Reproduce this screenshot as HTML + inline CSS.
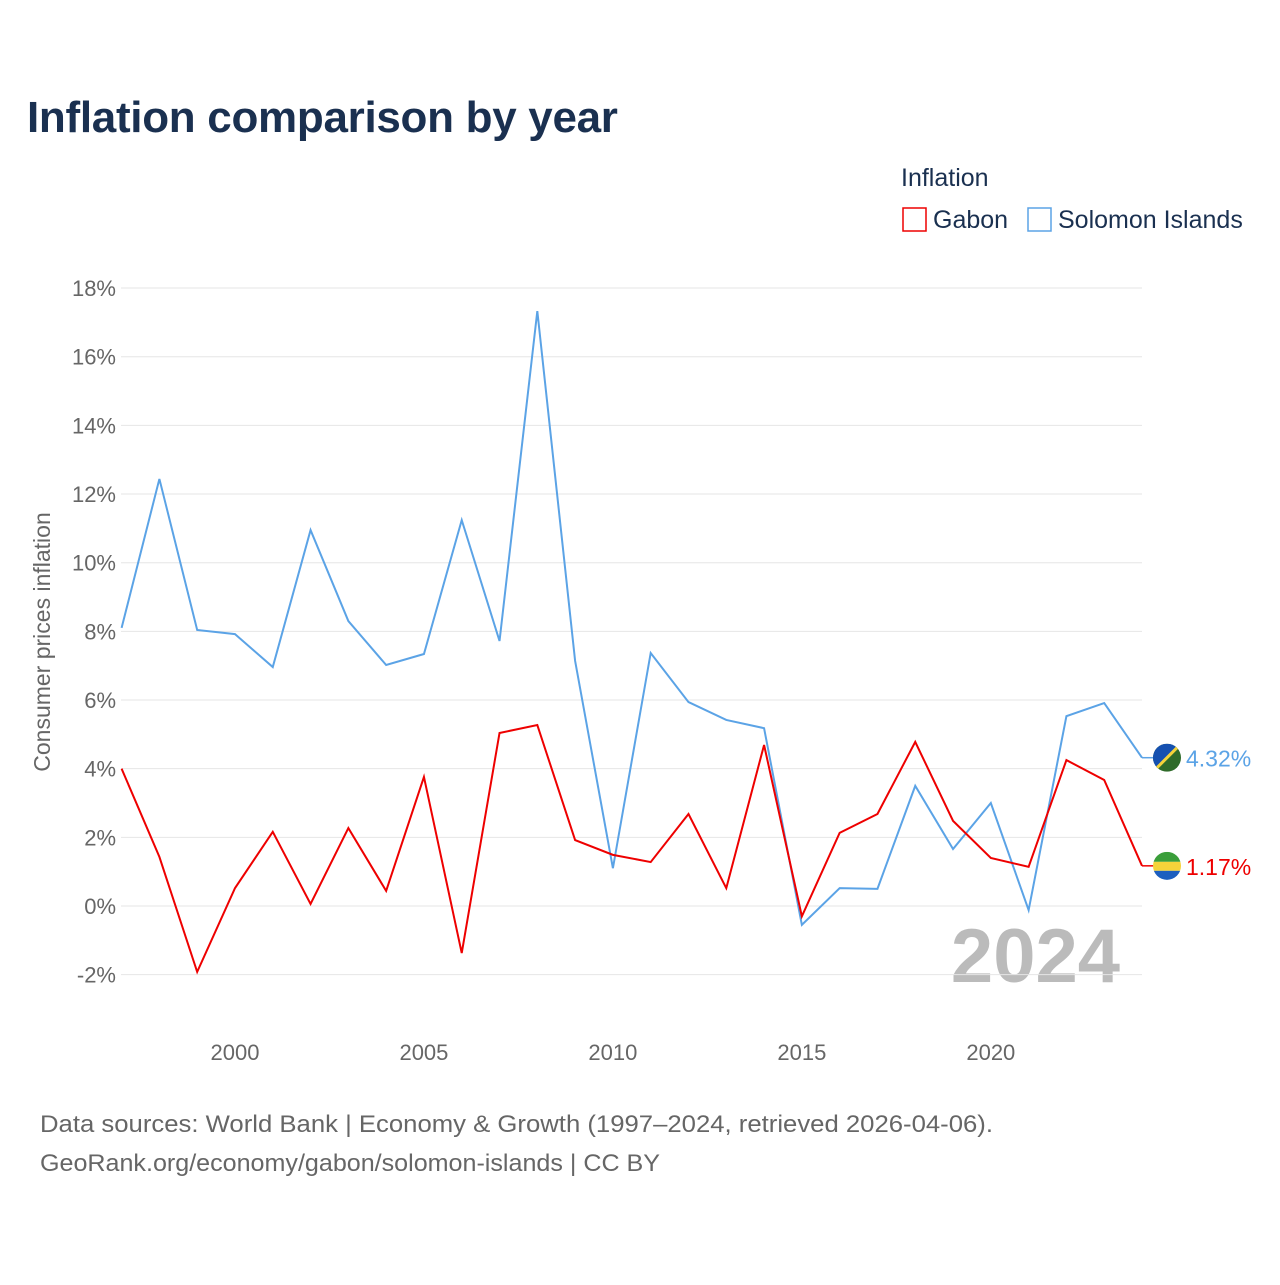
<!DOCTYPE html>
<html><head><meta charset="utf-8"><style>
body{margin:0;background:#fff;font-family:"Liberation Sans",sans-serif}
svg text{font-family:"Liberation Sans",sans-serif}
</style></head><body>
<svg id="c" width="1280" height="1280" xmlns="http://www.w3.org/2000/svg">
<defs>
<clipPath id="cg"><circle cx="1167" cy="0" r="14"/></clipPath>
</defs>
<text x="27" y="132" font-size="44" font-weight="bold" fill="#1a3050" letter-spacing="-0.3">Inflation comparison by year</text>
<text x="901" y="186" font-size="25" fill="#1a3050">Inflation</text>
<g><rect x="903" y="208" width="23" height="23" fill="none" stroke="#e00" stroke-width="1.5"/><text x="933" y="228" font-size="25" fill="#1a3050">Gabon</text></g>
<g><rect x="1028" y="208" width="23" height="23" fill="none" stroke="#5ba3e6" stroke-width="1.5"/><text x="1058" y="228" font-size="25" fill="#1a3050">Solomon Islands</text></g>
<text transform="translate(50,642) rotate(-90)" text-anchor="middle" font-size="23" fill="#666">Consumer prices inflation</text>
<text x="1120" y="982" text-anchor="end" font-size="76" font-weight="bold" fill="#bbb">2024</text>
<g id="grid"></g><g id="lines"></g>
<text x="40" y="1132" font-size="24" fill="#666" textLength="953" lengthAdjust="spacingAndGlyphs">Data sources: World Bank | Economy &amp; Growth (1997–2024, retrieved 2026-04-06).</text>
<text x="40" y="1171" font-size="24" fill="#666" textLength="620" lengthAdjust="spacingAndGlyphs">GeoRank.org/economy/gabon/solomon-islands | CC BY</text>
</svg>
<script>
const years=[1997,1998,1999,2000,2001,2002,2003,2004,2005,2006,2007,2008,2009,2010,2011,2012,2013,2014,2015,2016,2017,2018,2019,2020,2021,2022,2023,2024];
const solomon=[8.1,12.44,8.04,7.92,6.96,10.95,8.3,7.02,7.34,11.24,7.72,17.33,7.14,1.1,7.37,5.94,5.42,5.18,-0.55,0.52,0.5,3.5,1.66,3.0,-0.12,5.53,5.91,4.32];
const gabon=[4.0,1.43,-1.92,0.52,2.16,0.06,2.27,0.44,3.76,-1.37,5.04,5.27,1.92,1.49,1.28,2.68,0.52,4.69,-0.3,2.13,2.68,4.78,2.48,1.4,1.14,4.25,3.67,1.17];
const yTicks=[-2,0,2,4,6,8,10,12,14,16,18];
const xTicks=[2000,2005,2010,2015,2020];
const NS="http://www.w3.org/2000/svg";
const X=y=>121.6+(y-1997)*(1142-121.6)/27;
const Y=v=>906-v*34.33;
const grid=document.getElementById('grid'),lines=document.getElementById('lines');
function mk(tag,attrs,parent,txt){const e=document.createElementNS(NS,tag);for(const k in attrs)e.setAttribute(k,attrs[k]);if(txt!==undefined)e.textContent=txt;parent.appendChild(e);return e;}
yTicks.forEach(t=>{
 const l=mk('line',{x1:121,x2:1142,y1:Y(t),y2:Y(t),stroke:'#e6e6e6','stroke-width':1},grid);
 
 
 const tx=mk('text',{x:116,y:Y(t)+8,'text-anchor':'end','font-size':22,fill:'#666'},grid,t+'%');
 
 
});
xTicks.forEach(t=>{
 const tx=mk('text',{x:X(t),y:1060,'text-anchor':'middle','font-size':22,fill:'#666'},grid,String(t));
 
 
});
function flag(name,yy){
 const g=mk('g',{},lines);
 
 
 const cp=mk('clipPath',{id:'cp-'+name},g);
 mk('circle',{cx:1167,cy:yy,r:14},cp);
 const inner=mk('g',{'clip-path':'url(#cp-'+name+')'},g);
 if(name==='gabon'){
  mk('rect',{x:1153,y:yy-14,width:28,height:10,fill:'#3a9e3a'},inner);
  mk('rect',{x:1153,y:yy-4,width:28,height:9,fill:'#f5d33a'},inner);
  mk('rect',{x:1153,y:yy+5,width:28,height:10,fill:'#1d5fbf'},inner);
 }else{
  mk('rect',{x:1153,y:yy-14,width:28,height:28,fill:'#2f6b2a'},inner);
  mk('polygon',{points:(1153)+','+(yy-14)+' '+(1181)+','+(yy-14)+' '+(1153)+','+(yy+14),fill:'#1550b0'},inner);
  mk('line',{x1:1181,y1:yy-14,x2:1153,y2:yy+14,stroke:'#f5d33a','stroke-width':3},inner);
 }
}
function series(vals,color,name){
 const pts=vals.map((v,i)=>X(years[i])+','+Y(v)).join(' ');
 const p=mk('polyline',{points:pts,fill:'none',stroke:color,'stroke-width':2},lines);
 
 
 const last=vals[vals.length-1],yy=Y(last);
 mk('line',{x1:1142,x2:1154,y1:yy,y2:yy,stroke:color,'stroke-width':1.5},lines);
 flag(name,yy);
 const t=mk('text',{x:1186,y:yy+9,'font-size':23,fill:color},lines,last.toFixed(2)+'%');
 
 
}
series(solomon,'#5ba3e6','solomon-islands');
series(gabon,'#e00','gabon');
</script>
</body></html>
